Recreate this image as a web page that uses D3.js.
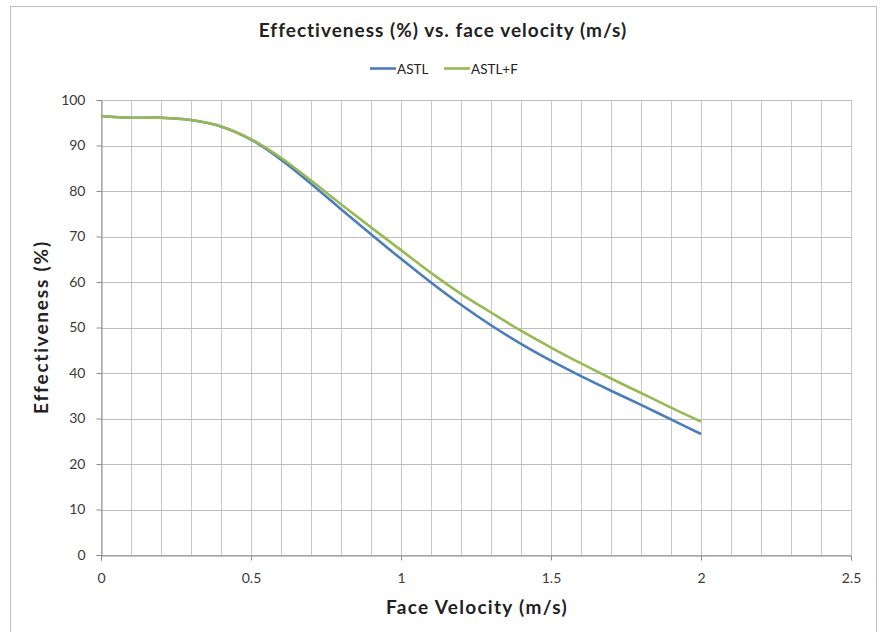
<!DOCTYPE html>
<html><head><meta charset="utf-8">
<script src="https://cdn.jsdelivr.net/npm/d3@7"></script>
<style>
html,body{margin:0;padding:0;background:#fff;}
text{font-family:Lato,"Open Sans","Liberation Sans",sans-serif;}
</style></head>
<body><svg id="c" width="883" height="632"></svg>
<script>
const velocity = [0,0.1,0.2,0.3,0.4,0.5,0.6,0.7,0.8,0.9,1.0,1.1,1.2,1.3,1.4,1.5,1.6,1.7,1.8,1.9,2.0];
const astl  = [96.5,96.1,96.1,95.6,94.2,91.3,86.9,81.6,76.0,70.5,65.1,59.9,55.0,50.5,46.4,42.7,39.3,36.1,33.0,29.8,26.6];
const astlF = [96.5,96.1,96.1,95.6,94.2,91.4,87.3,82.3,77.1,72.0,67.0,62.0,57.4,53.3,49.3,45.6,42.1,38.8,35.6,32.4,29.3];
const seriesNames = ["ASTL","ASTL+F"];
const seriesColors = ["#4a7ebb","#98b954"];
const xTicks = [0,0.5,1,1.5,2,2.5];
const yTicks = [0,10,20,30,40,50,60,70,80,90,100];

const svg = d3.select("#c");
const L=101,R=851,T=100,B=555;
const x = d3.scaleLinear().domain([0,2.5]).range([L,R]);
const y = d3.scaleLinear().domain([0,100]).range([B,T]);

// outer border
svg.append("rect").attr("x",10.5).attr("y",6.5).attr("width",866).attr("height",640)
  .attr("fill","none").attr("stroke","#bcbcbc").attr("stroke-width",1);

// grid
const minor = d3.range(0,26).map(i=>i/10);
svg.append("g").selectAll("line").data(minor).join("line")
  .attr("x1",d=>Math.round(x(d))+0.5).attr("x2",d=>Math.round(x(d))+0.5)
  .attr("y1",T).attr("y2",B).attr("stroke","#c8c8c8").attr("stroke-width",1);
svg.append("g").selectAll("line").data(yTicks).join("line")
  .attr("x1",L).attr("x2",R)
  .attr("y1",d=>Math.round(y(d))+0.5).attr("y2",d=>Math.round(y(d))+0.5)
  .attr("stroke","#bdbdbd").attr("stroke-width",1.2);

// axes
const xa = svg.append("g").attr("transform",`translate(0,${B+0.5})`)
  .call(d3.axisBottom(x).tickValues(xTicks).tickFormat(d=>String(d)).tickSize(5).tickPadding(13));
const ya = svg.append("g").attr("transform",`translate(${L+0.5},0)`)
  .call(d3.axisLeft(y).tickValues(yTicks).tickSize(5).tickPadding(11));
[xa,ya].forEach(a=>{
  a.select(".domain").attr("stroke","#8c8c8c");
  a.selectAll(".tick line").attr("stroke","#8c8c8c");
  a.selectAll(".tick text").attr("fill","#3a3a3a").style("font-size","14px")
   .style("font-family","Lato,'Open Sans',sans-serif");
});

// lines
const line = d3.line().curve(d3.curveCatmullRom.alpha(0.5)).x((d,i)=>x(velocity[i])).y(d=>y(d));
[astl,astlF].forEach((s,k)=>{
  svg.append("path").attr("d",line(s)).attr("fill","none")
    .attr("stroke",seriesColors[k]).attr("stroke-width",2.6).attr("stroke-linejoin","round");
});

// title
svg.append("text").attr("x",443).attr("y",37).attr("text-anchor","middle")
  .style("font-size","19px").style("font-weight","bold").style("letter-spacing","1px").attr("fill","#222")
  .text("Effectiveness (%) vs. face velocity (m/s)");

// legend
const lg = svg.append("g");
const items=[{x:370,n:0},{x:444,n:1}];
items.forEach(it=>{
  lg.append("line").attr("x1",it.x).attr("x2",it.x+26).attr("y1",68.5).attr("y2",68.5)
    .attr("stroke",seriesColors[it.n]).attr("stroke-width",2.6);
  lg.append("text").attr("x",it.x+27).attr("y",73.5).style("font-size","13.5px").attr("fill","#222")
    .text(seriesNames[it.n]);
});

// axis titles
svg.append("text").attr("x",477).attr("y",614).attr("text-anchor","middle")
  .style("font-size","19px").style("font-weight","bold").style("letter-spacing","1.3px").attr("fill","#222").text("Face Velocity (m/s)");
svg.append("text").attr("transform","translate(48,327) rotate(-90)").attr("text-anchor","middle")
  .style("font-size","19px").style("font-weight","bold").style("letter-spacing","1.8px").attr("fill","#222").text("Effectiveness (%)");
</script></body></html>
